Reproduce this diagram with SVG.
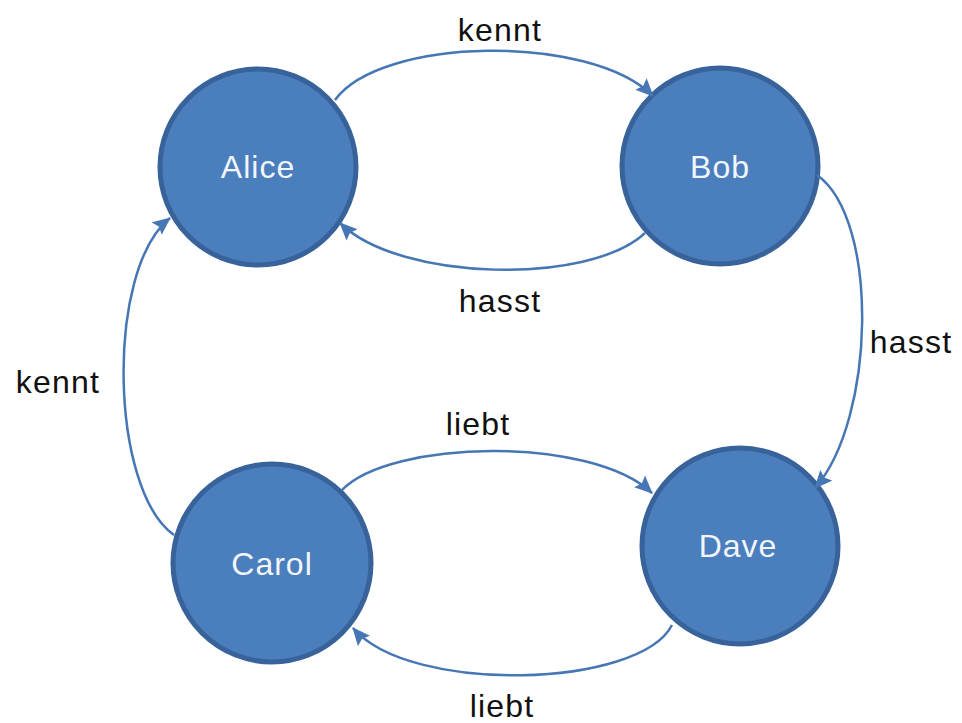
<svg xmlns="http://www.w3.org/2000/svg" width="962" height="723" viewBox="0 0 962 723">
  <style>
    .node circle { fill: #4a7ebd; stroke: #38629a; stroke-width: 5; }
    .node text { font-family: "Liberation Sans", Arial, sans-serif; font-size: 32px; fill: #f2f6fb; text-anchor: middle; letter-spacing: 1px; }
    .edge { fill: none; stroke: #4676b4; stroke-width: 2.5; marker-end: url(#arrow); }
    .label { font-family: "Liberation Sans", Arial, sans-serif; font-size: 32px; fill: #111; text-anchor: middle; letter-spacing: 1.2px; }
  </style>
  <defs>
    <marker id="arrow" markerUnits="userSpaceOnUse" markerWidth="18" markerHeight="16" refX="17" refY="8" orient="auto">
      <path d="M0,0 L18,8 L0,16 L3,8 z" fill="#4676b4"/>
    </marker>
  </defs>
  <rect width="962" height="723" fill="#ffffff"/>
  <g id="Alice" class="node">
    <circle cx="258" cy="167" r="98"/>
    <text x="258" y="178">Alice</text>
  </g>
  <g id="Bob" class="node">
    <circle cx="720" cy="166" r="98"/>
    <text x="720" y="178">Bob</text>
  </g>
  <g id="Carol" class="node">
    <circle cx="272" cy="563" r="99"/>
    <text x="272" y="575">Carol</text>
  </g>
  <g id="Dave" class="node">
    <circle cx="740" cy="546" r="98"/>
    <text x="738" y="557">Dave</text>
  </g>
  <g id="connectors">
    <path class="edge" d="M335,100 C380,37 590,33 653,96"/>
    <path class="edge" d="M645,233 C590,285 400,282 340,223"/>
    <path class="edge" d="M817,175 C880,220 875,420 815,488"/>
    <path class="edge" d="M174,535 C110,490 105,270 170,218"/>
    <path class="edge" d="M342,490 C390,440 590,435 652,493"/>
    <path class="edge" d="M672,625 C640,688 410,695 353,628"/>
    <text class="label" x="500" y="41">kennt</text>
    <text class="label" x="500" y="312">hasst</text>
    <text class="label" x="911" y="353">hasst</text>
    <text class="label" x="58" y="393">kennt</text>
    <text class="label" x="478" y="435">liebt</text>
    <text class="label" x="502" y="717">liebt</text>
  </g>
</svg>
